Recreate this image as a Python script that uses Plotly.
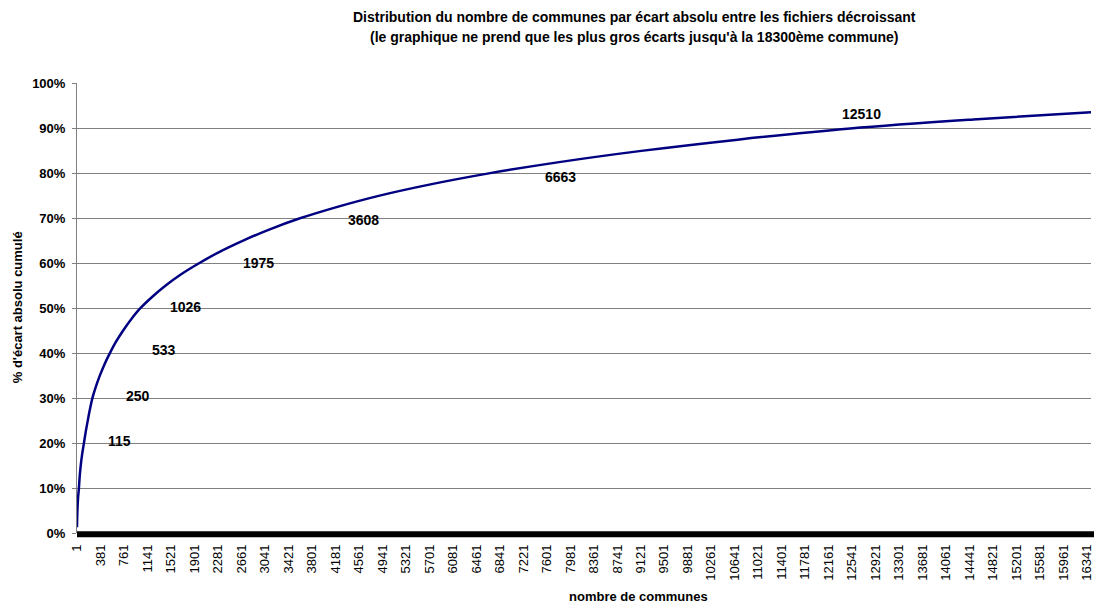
import plotly.graph_objects as go

# Curve points: (rank of commune, cumulative % of absolute gap)
communes = [1, 4, 10, 18, 32, 44, 61, 84, 113, 142, 175, 210, 250, 305, 370, 445,
            533, 630, 745, 875, 1026, 1215, 1430, 1680, 1975, 2300, 2680, 3110, 3608,
            4200, 4880, 5700, 6663, 7800, 9130, 10690, 12510, 14500, 16404]
cumul_pct = [0.013, 0.035, 0.058, 0.078, 0.100, 0.125, 0.150, 0.175, 0.200, 0.225,
             0.250, 0.275, 0.300, 0.325, 0.350, 0.375, 0.400, 0.425, 0.450, 0.475,
             0.500, 0.525, 0.550, 0.575, 0.600, 0.625, 0.650, 0.675, 0.700, 0.725,
             0.750, 0.775, 0.800, 0.825, 0.850, 0.875, 0.900, 0.920, 0.936]

# Labels shown next to the curve (commune rank reached at each 10% step)
label_texts = ["115", "250", "533", "1026", "1975", "3608", "6663", "12510"]
label_x = [694, 984, 1403, 1758, 2935, 4629, 7823, 12694]
label_y = [0.204, 0.304, 0.407, 0.502, 0.600, 0.696, 0.793, 0.931]

# X tick labels (category labels every 380 communes)
x_ticks = [1, 381, 761, 1141, 1521, 1901, 2281, 2661, 3041, 3421, 3801, 4181, 4561,
           4941, 5321, 5701, 6081, 6461, 6841, 7221, 7601, 7981, 8361, 8741, 9121,
           9501, 9881, 10261, 10641, 11021, 11401, 11781, 12161, 12541, 12921, 13301,
           13681, 14061, 14441, 14821, 15201, 15581, 15961, 16341]
y_ticks = [0, 0.1, 0.2, 0.3, 0.4, 0.5, 0.6, 0.7, 0.8, 0.9, 1.0]

FONT = "Liberation Sans, Arial, sans-serif"

fig = go.Figure()
fig.add_trace(go.Scatter(
    x=communes, y=cumul_pct, mode="lines",
    line=dict(color="#000080", width=2.5, shape="spline", smoothing=1.0),
    hoverinfo="x+y", showlegend=False,
))

annotations = []
for t, xv, yv in zip(label_texts, label_x, label_y):
    annotations.append(dict(x=xv, y=yv, xref="x", yref="y", text=t, showarrow=False,
                            font=dict(family=FONT, size=14, color="black", weight="bold"),
                            xanchor="center", yanchor="middle"))

annotations += [
    dict(text="Distribution du nombre de communes par écart absolu entre les fichiers décroissant",
         xref="paper", yref="paper", x=0.5497, y=1.1467, showarrow=False,
         xanchor="center", yanchor="middle",
         font=dict(family=FONT, size=14, color="black", weight="bold")),
    dict(text="(le graphique ne prend que les plus gros écarts jusqu'à la 18300ème commune)",
         xref="paper", yref="paper", x=0.5497, y=1.1022, showarrow=False,
         xanchor="center", yanchor="middle",
         font=dict(family=FONT, size=14, color="black", weight="bold")),
    dict(text="% d'écart absolu cumulé", xref="paper", yref="paper",
         x=-0.059, y=0.502, textangle=-90, showarrow=False,
         xanchor="center", yanchor="middle",
         font=dict(family=FONT, size=13, color="black", weight="bold")),
    dict(text="nombre de communes", xref="paper", yref="paper",
         x=0.5536, y=-0.142, showarrow=False, xanchor="center", yanchor="middle",
         font=dict(family=FONT, size=13, color="black", weight="bold")),
]

fig.update_layout(
    width=1094, height=603,
    margin=dict(l=77, r=0, t=83, b=70),
    paper_bgcolor="white", plot_bgcolor="white",
    font=dict(family=FONT, size=12, color="black"),
    annotations=annotations,
    shapes=[dict(type="line", xref="paper", yref="paper", x0=0, x1=1.01,
                 y0=-0.003, y1=-0.003, line=dict(color="black", width=6))],
    xaxis=dict(range=[1, 16404], tickmode="array", tickvals=x_ticks,
               ticktext=[str(v) for v in x_ticks], tickangle=-90,
               showgrid=False, zeroline=False, showline=False, ticks="",
               ticklabelstandoff=8, ticklabeloverflow="allow",
               tickfont=dict(family=FONT, size=13, color="black")),
    yaxis=dict(range=[0, 1.001], tickmode="array", tickvals=y_ticks,
               ticktext=[f"{int(round(v*100))}%" for v in y_ticks],
               showgrid=True, gridcolor="#808080", gridwidth=1,
               zeroline=False, showline=True, linecolor="#808080", linewidth=1,
               ticks="outside", ticklen=4, tickcolor="#808080",
               ticklabelstandoff=4,
               tickfont=dict(family=FONT, size=13, color="black", weight="bold")),
)

fig.write_html("out.html", config={"displayModeBar": False},
               post_script="document.body.style.margin='0';document.body.style.padding='0';")
